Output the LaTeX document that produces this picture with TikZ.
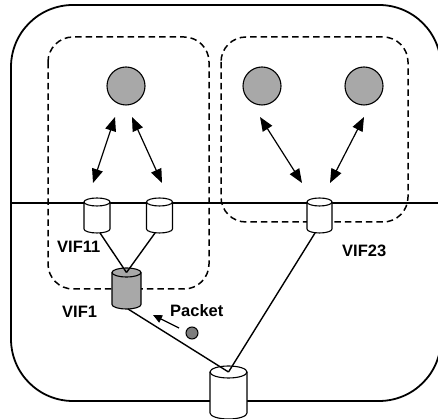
\documentclass[tikz,border=0pt]{standalone}
\usepackage{fontspec}
\setmainfont{Liberation Sans}
\usetikzlibrary{arrows.meta,calc}
\definecolor{ballgray}{RGB}{168,168,168}
\definecolor{pktgray}{RGB}{125,125,125}
\tikzset{
  cylline/.style={line width=1.1pt},
  pics/cyl/.style n args={4}{code={
    \fill[#4] (-#1,0) -- (-#1,-#2) arc[start angle=180,end angle=360,x radius=#1,y radius=#3] -- (#1,0) -- cycle;
    \fill[#4] (0,0) ellipse[x radius=#1,y radius=#3];
    \draw[cylline] (-#1,0) -- (-#1,-#2) arc[start angle=180,end angle=360,x radius=#1,y radius=#3] -- (#1,0);
    \draw[cylline] (0,0) ellipse[x radius=#1,y radius=#3];
    \coordinate (-top) at (0,0);
    \coordinate (-bot) at (0,-#2-#3);
  }},
  outerbox/.style={line width=1.8pt, rounded corners=62pt},
  dbox/.style={line width=1.5pt, dash pattern=on 6.5pt off 4pt, rounded corners=25pt},
  ball/.style={circle, draw, line width=1.1pt, fill=ballgray, minimum size=38pt, inner sep=0pt},
  pkt/.style={circle, draw, line width=1pt, fill=pktgray, minimum size=12pt, inner sep=0pt},
  biarrow/.style={line width=1.2pt, {Triangle[length=14pt,width=11pt]}-{Triangle[length=14pt,width=11pt]}},
  pktarrow/.style={line width=1.2pt, -{Triangle[length=9pt,width=8pt]}},
  link/.style={line width=1.4pt},
  lbl/.style={font=\bfseries\fontsize{16.5}{18}\selectfont, inner sep=0pt, anchor=base west},
}
\begin{document}
\begin{tikzpicture}[x=1pt,y=1pt]
\useasboundingbox (0,0) rectangle (438,419);
\clip (0,0) rectangle (438,419);
% outer domain and divider
\draw[outerbox] (11,414) rectangle (441,18);
\coordinate (hl) at (11,216);
\coordinate (hr) at (441,216);
\draw[line width=1.3pt] (hl) -- (hr);
% dashed groups
\draw[dbox] (48,382) rectangle (209,130);
\draw[dbox] (221,382) rectangle (408,197);
% hosts
\node[ball] (s1) at (126,333) {};
\node[ball] (s2) at (262,333) {};
\node[ball] (s3) at (364,333) {};
% bidirectional arrows
\coordinate (a1t) at (115,302); \coordinate (a1b) at (93,236);
\coordinate (a2t) at (132,302); \coordinate (a2b) at (162,236);
\coordinate (a3t) at (260,302); \coordinate (a3b) at (302,236);
\coordinate (a4t) at (364,302); \coordinate (a4b) at (330,236);
\draw[biarrow] (a1t) -- (a1b);
\draw[biarrow] (a2t) -- (a2b);
\draw[biarrow] (a3t) -- (a3b);
\draw[biarrow] (a4t) -- (a4b);
% cylinders
\pic (c11a) at (97,217) {cyl={13}{27}{4}{white}};
\pic (c11b) at (159.5,217) {cyl={13}{27}{4}{white}};
\pic (c23) at (319.5,217) {cyl={12.5}{27}{4}{white}};
\pic (v1) at (126.5,146.5) {cyl={14.5}{32}{4.5}{ballgray}};
\pic (root) at (228.5,47) {cyl={18.5}{41}{6}{white}};
% links
\draw[link] ($(c11a-bot)+(3,0)$) -- (v1-top);
\draw[link] ($(c11b-bot)+(-4.5,0)$) -- (v1-top);
\draw[link] ($(v1-bot)+(1.5,0)$) -- (root-top);
\draw[link] ($(c23-bot)+(-4.5,0)$) -- (root-top);
% packet
\node[pkt] (p) at (192,86) {};
\coordinate (pt) at (179,91);
\coordinate (ph) at (153,104);
\draw[pktarrow] (pt) -- (ph);
% labels
\node[lbl] (l11) at (57,166) {VIF11};
\node[lbl] (l1) at (62,101) {VIF1};
\node[lbl] (lp) at (170,102) {Packet};
\node[lbl] (l23) at (342,162) {VIF23};
\end{tikzpicture}
\end{document}
